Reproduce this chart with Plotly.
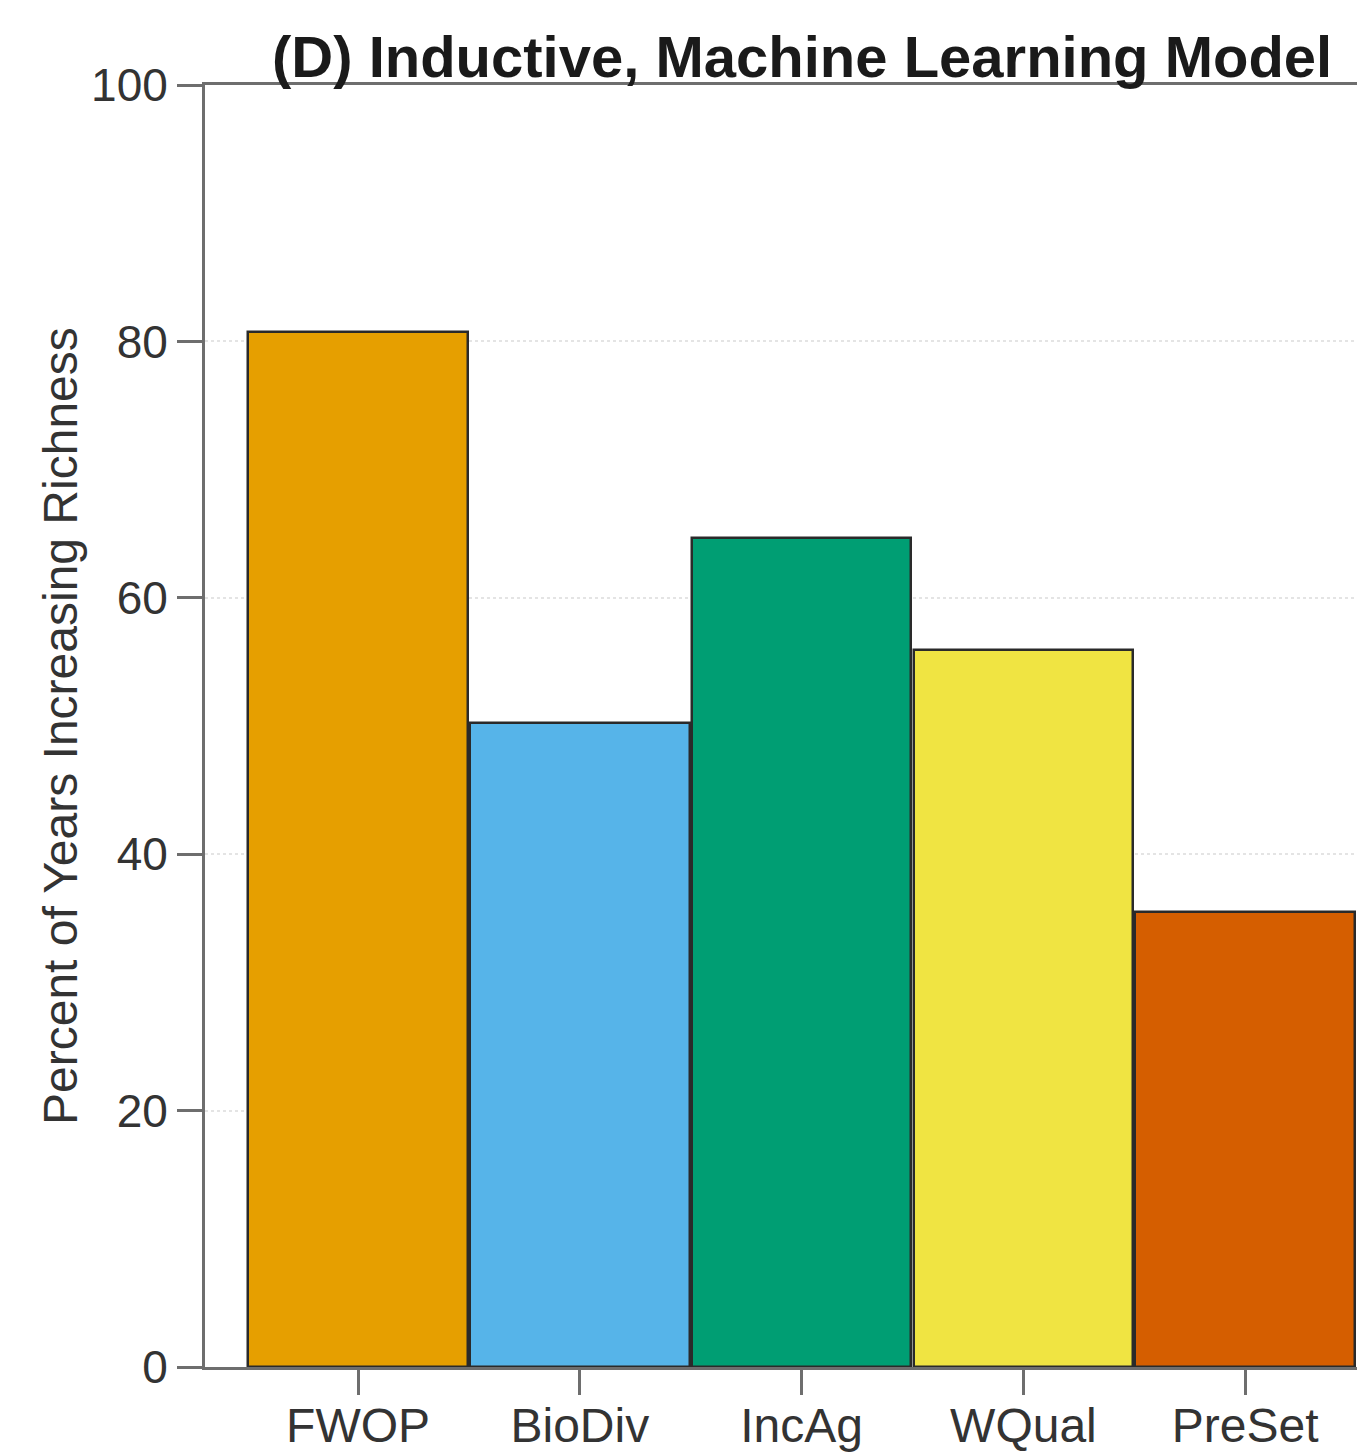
import plotly.graph_objects as go

categories = ["FWOP", "BioDiv", "IncAg", "WQual", "PreSet"]
values = [80.7, 50.2, 64.7, 55.9, 35.5]
colors = ["#E69F00", "#56B4E9", "#009E73", "#F0E442", "#D55E00"]
y_ticks = [0, 20, 40, 60, 80, 100]

fig = go.Figure()
fig.add_trace(go.Bar(
    x=categories, y=values, width=0.99,
    marker=dict(color=colors, line=dict(color="#2a2a2a", width=2.5)),
    showlegend=False,
))

axis_color = "#6e6e6e"
# the page body has an 8px margin, so the figure is sized/placed to compensate
fig.update_layout(
    width=1357, height=1444,
    margin=dict(l=197, r=0, t=77, b=78),
    paper_bgcolor="white", plot_bgcolor="white",
    bargap=0,
    font=dict(family="Liberation Sans, Arial, sans-serif", color="#333333"),
    xaxis=dict(
        range=[-0.69, 4.54], showline=True, linecolor=axis_color, linewidth=3,
        mirror=True, ticks="outside", ticklen=25, tickwidth=3, tickcolor=axis_color,
        tickfont=dict(size=48, color="#333333"), ticklabelstandoff=-11,
        showgrid=False, zeroline=False,
    ),
    yaxis=dict(
        range=[0, 100], tickvals=y_ticks, showline=True, linecolor=axis_color, linewidth=3,
        ticks="outside", ticklen=25, tickwidth=3, tickcolor=axis_color,
        tickfont=dict(size=46, color="#333333"), ticklabelstandoff=0,
        showgrid=True, gridcolor="#e4e4e4", gridwidth=2, griddash="dot", zeroline=False,
    ),
    annotations=[
        dict(text="<b>(D) Inductive, Machine Learning Model</b>", xref="paper", yref="paper",
             x=0.5147, y=1.022, xanchor="center", yanchor="middle", showarrow=False,
             font=dict(size=58, color="#1a1a1a")),
        dict(text="Percent of Years Increasing Richness", xref="paper", yref="paper",
             x=-0.125, y=0.5, xanchor="center", yanchor="middle", textangle=-90,
             showarrow=False, font=dict(size=48, color="#333333")),
    ],
)

fig.write_html("out.html")
